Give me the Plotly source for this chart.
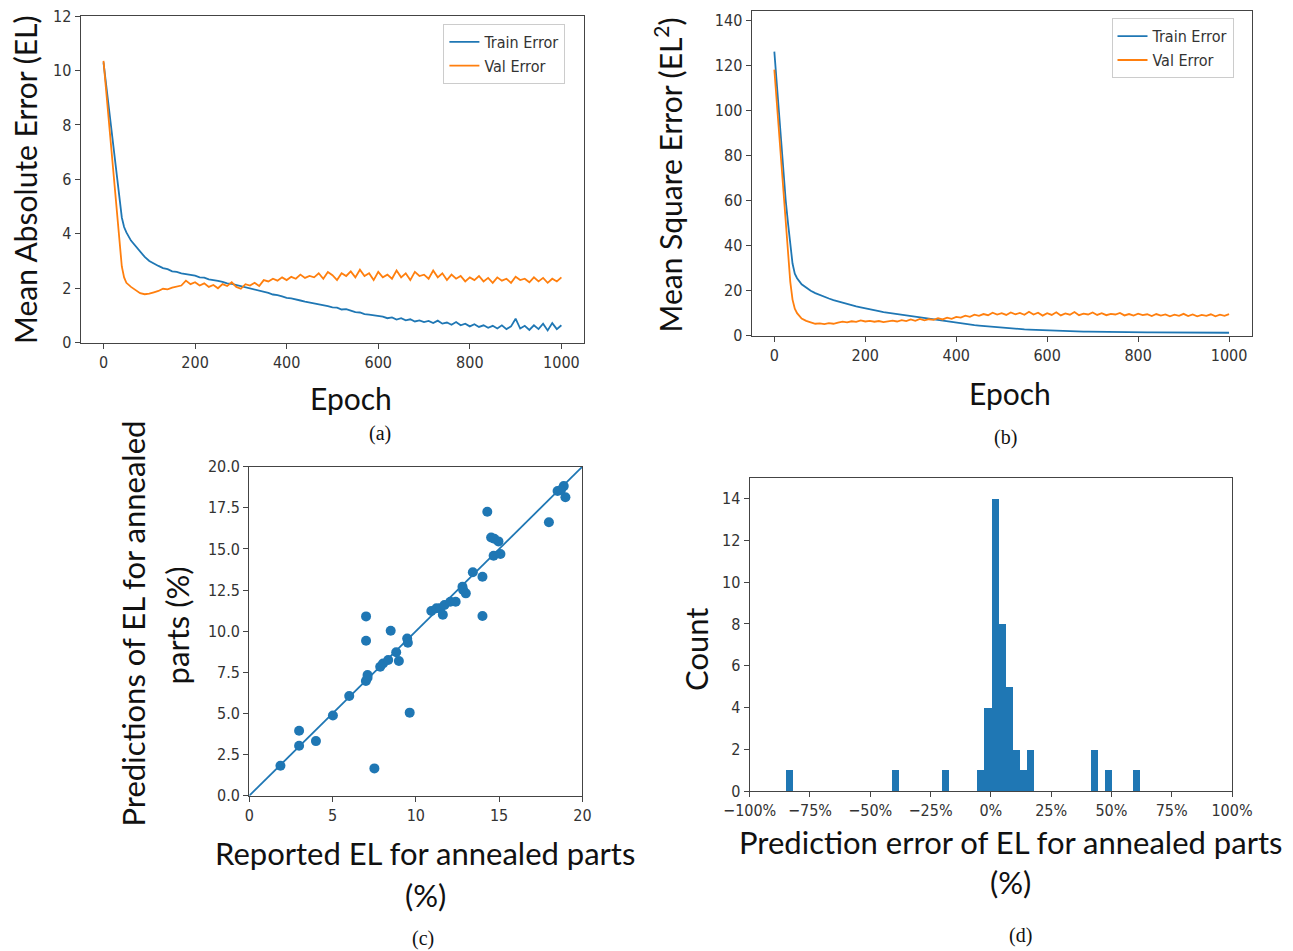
import plotly.graph_objects as go

# ---------------- data ----------------
# (a) mean absolute error
epochs_a = [0, 5, 10, 15, 20, 25, 30, 35, 40, 45, 50, 60, 70, 80, 90, 100, 110, 120, 130, 140, 150,
            160, 170, 180, 190, 200, 210, 220, 230, 240, 250, 260, 270, 280, 290, 300, 310, 320,
            330, 340, 350, 360, 370, 380, 390, 400, 410, 420, 430, 440, 450, 460, 470, 480, 490,
            500, 510, 520, 530, 540, 550, 560, 570, 580, 590, 600, 610, 620, 630, 640, 650, 660,
            670, 680, 690, 700, 710, 720, 730, 740, 750, 760, 770, 780, 790, 800, 810, 820, 830,
            840, 850, 860, 870, 880, 890, 900, 910, 920, 930, 940, 950, 960, 970, 980, 990, 1000]
train_mae = [10.3, 9.57, 8.84, 8.1, 7.4, 6.65, 5.9, 5.2, 4.6, 4.25, 4.05, 3.75, 3.55, 3.35, 3.15, 3.0,
             2.9, 2.82, 2.74, 2.7, 2.62, 2.6, 2.55, 2.52, 2.47, 2.46, 2.4, 2.39, 2.33, 2.31, 2.27,
             2.23, 2.18, 2.16, 2.12, 2.08, 2.04, 2.0, 1.95, 1.91, 1.86, 1.83, 1.77, 1.75, 1.7, 1.65,
             1.63, 1.6, 1.55, 1.51, 1.48, 1.45, 1.42, 1.38, 1.34, 1.3, 1.29, 1.22, 1.23, 1.18, 1.12,
             1.11, 1.05, 1.03, 1.0, 0.98, 0.96, 0.9, 0.93, 0.85, 0.9, 0.82, 0.86, 0.78, 0.82, 0.76,
             0.8, 0.72, 0.81, 0.7, 0.74, 0.66, 0.76, 0.64, 0.7, 0.6, 0.68, 0.58, 0.64, 0.55, 0.62,
             0.52, 0.64, 0.5, 0.6, 0.88, 0.52, 0.62, 0.47, 0.64, 0.5, 0.7, 0.45, 0.72, 0.5, 0.64]
val_mae = [10.35, 9.4, 8.45, 7.5, 6.55, 5.6, 4.65, 3.7, 2.8, 2.4, 2.2, 2.05, 1.95, 1.82, 1.78, 1.8,
           1.85, 1.9, 1.98, 1.96, 2.02, 2.05, 2.1, 2.28, 2.15, 2.22, 2.1, 2.18, 2.05, 2.12, 2.0,
           2.15, 2.08, 2.22, 2.05, 1.98, 2.15, 2.1, 2.2, 2.08, 2.3, 2.25, 2.35, 2.28, 2.4, 2.3,
           2.42, 2.35, 2.5, 2.38, 2.45, 2.4, 2.55, 2.35, 2.6, 2.48, 2.3, 2.55, 2.45, 2.62, 2.4,
           2.68, 2.45, 2.55, 2.3, 2.6, 2.4, 2.5, 2.35, 2.65, 2.4, 2.55, 2.3, 2.6, 2.45, 2.5, 2.35,
           2.65, 2.4, 2.55, 2.3, 2.5, 2.35, 2.45, 2.25, 2.4, 2.3, 2.45, 2.25, 2.38, 2.2, 2.4, 2.28,
           2.35, 2.2, 2.42, 2.3, 2.35, 2.22, 2.4, 2.25, 2.38, 2.2, 2.35, 2.25, 2.4]

# (b) mean square error
epochs_b = epochs_a
train_mse = [126, 112, 98, 85, 72, 60, 50, 41, 32, 27.5, 25.5, 22.8, 21.2, 19.9, 18.9, 18.0, 17.2,
             16.5, 15.8, 15.2, 14.6, 14.0, 13.5, 13.0, 12.6, 12.1, 11.7, 11.3, 10.9, 10.5, 10.2, 9.8,
             9.5, 9.2, 8.9, 8.6, 8.4, 8.1, 7.8, 7.5, 7.2, 6.9, 6.6, 6.3, 6.0, 5.7, 5.4, 5.2, 4.9,
             4.7, 4.5, 4.3, 4.1, 3.9, 3.7, 3.5, 3.4, 3.2, 3.1, 3.0, 2.8, 2.7, 2.6, 2.5, 2.4, 2.3,
             2.2, 2.1, 2.05, 2.0, 1.95, 1.9, 1.85, 1.8, 1.8, 1.75, 1.72, 1.7, 1.68, 1.65, 1.62, 1.6,
             1.58, 1.55, 1.55, 1.5, 1.52, 1.5, 1.47, 1.45, 1.44, 1.4, 1.42, 1.4, 1.38, 1.45, 1.36,
             1.35, 1.36, 1.35, 1.32, 1.3, 1.32, 1.3, 1.3, 1.3]
val_mse = [118, 104, 90, 76, 62, 50, 36, 24, 16, 12, 10, 7.6, 6.6, 5.8, 5.3, 5.5, 5.1, 5.6, 5.3,
           5.8, 6.2, 5.9, 6.4, 6.1, 6.8, 6.3, 6.6, 6.2, 6.5, 6.0, 6.4, 6.7, 6.3, 6.9, 6.5, 7.2,
           6.6, 7.4, 6.8, 7.3, 7.0, 7.8, 7.2, 8.0, 7.5, 8.3, 8.0, 8.9, 8.4, 9.3, 8.8, 9.6, 9.1,
           10.2, 9.4, 10.0, 9.2, 10.3, 9.5, 10.1, 9.3, 10.6, 9.4, 10.2, 8.9, 10.0, 9.2, 10.4, 9.0,
           9.9, 9.3, 10.5, 9.1, 9.8, 9.4, 10.3, 9.2, 10.0, 9.1, 9.7, 9.4, 10.1, 9.0, 9.6, 8.9,
           9.8, 9.1, 9.5, 8.7, 9.6, 8.9, 9.4, 8.6, 9.3, 8.8, 9.7, 8.7, 9.4, 8.6, 9.2, 8.8, 9.5,
           8.6, 9.3, 8.8, 9.6]

# (c) reported vs predicted EL (%)
reported_el = [1.87, 2.99, 2.99, 4.0, 5.02, 6.0, 7.01, 7.01, 7.1, 7.0, 7.1, 7.51, 7.86, 8.03, 8.34,
               8.49, 8.82, 8.98, 9.48, 9.52, 9.63, 10.93, 11.24, 11.45, 11.62, 11.72, 12.07, 12.39,
               12.8, 12.84, 13.0, 13.42, 14.0, 14.0, 14.29, 14.52, 14.71, 14.67, 14.96, 15.08,
               17.99, 18.51, 18.88, 18.98, 18.71]
predicted_el = [1.82, 3.95, 3.04, 3.32, 4.88, 6.06, 10.9, 9.42, 7.34, 6.97, 7.17, 1.66, 7.84, 8.04,
                8.25, 10.03, 8.72, 8.19, 9.56, 9.3, 5.05, 11.23, 11.39, 11.39, 11.0, 11.59, 11.79,
                11.79, 12.7, 12.5, 12.3, 13.58, 13.31, 10.92, 17.26, 15.7, 15.62, 14.59, 15.46,
                14.69, 16.62, 18.52, 18.82, 18.14, 18.58]
identity_line = [0, 20]

# (d) histogram of prediction error (%)
bin_centers = [-83.63, -39.53, -18.95, -4.25, -1.31, 1.63, 4.57, 7.51, 10.45, 13.39, 16.33,
               42.79, 48.67, 60.43]
bin_counts = [1, 1, 1, 1, 4, 14, 8, 5, 2, 1, 2, 2, 1, 1]
bin_width = 2.94

x_ticks_epoch = [0, 200, 400, 600, 800, 1000]
y_ticks_mae = [0, 2, 4, 6, 8, 10, 12]
y_ticks_mse = [0, 20, 40, 60, 80, 100, 120, 140]
x_ticks_c = [0, 5, 10, 15, 20]
y_ticks_c = [0.0, 2.5, 5.0, 7.5, 10.0, 12.5, 15.0, 17.5, 20.0]
x_ticks_d = [-100, -75, -50, -25, 0, 25, 50, 75, 100]
x_ticklabels_d = ["\u2212100%", "\u221275%", "\u221250%", "\u221225%", "0%", "25%", "50%", "75%", "100%"]
y_ticks_d = [0, 2, 4, 6, 8, 10, 12, 14]

# ---------------- style ----------------
W, H = 1293, 951
BLUE = "#1f77b4"
ORANGE = "#ff7f0e"
TICKFONT = dict(family="DejaVu Sans Condensed, Liberation Sans, sans-serif", size=16, color="#333")
TITLEFONT = dict(family="Lato, Open Sans, sans-serif", size=30, color="#111")
TITLEFONT2 = dict(family="Lato, Open Sans, sans-serif", size=31, color="#111")
CAPFONT = dict(family="Liberation Serif, serif", size=20, color="#111")


def px(x):
    return x / W


def py(y):
    return 1 - y / H


def axis(domain, rng, ticks, anchor, ticktext=None, fmt=None):
    d = dict(domain=domain, range=rng, tickvals=ticks, anchor=anchor, showgrid=False,
             zeroline=False, showline=True, mirror=True, linecolor="#444", linewidth=1.2,
             ticks="outside", ticklen=5, tickcolor="#444", tickfont=TICKFONT,
             automargin=False, fixedrange=True)
    if ticktext is not None:
        d["ticktext"] = ticktext
    if fmt is not None:
        d["tickformat"] = fmt
    return d


fig = go.Figure()

# (a)
fig.add_trace(go.Scatter(x=epochs_a, y=train_mae, mode="lines", name="Train Error",
                         line=dict(color=BLUE, width=1.8), xaxis="x", yaxis="y", legend="legend"))
fig.add_trace(go.Scatter(x=epochs_a, y=val_mae, mode="lines", name="Val Error",
                         line=dict(color=ORANGE, width=1.8), xaxis="x", yaxis="y", legend="legend"))
# (b)
fig.add_trace(go.Scatter(x=epochs_b, y=train_mse, mode="lines", name="Train Error",
                         line=dict(color=BLUE, width=1.8), xaxis="x2", yaxis="y2", legend="legend2"))
fig.add_trace(go.Scatter(x=epochs_b, y=val_mse, mode="lines", name="Val Error",
                         line=dict(color=ORANGE, width=1.8), xaxis="x2", yaxis="y2", legend="legend2"))
# (c)
fig.add_trace(go.Scatter(x=identity_line, y=identity_line, mode="lines", showlegend=False,
                         line=dict(color=BLUE, width=1.8), xaxis="x3", yaxis="y3"))
fig.add_trace(go.Scatter(x=reported_el, y=predicted_el, mode="markers", showlegend=False,
                         marker=dict(color=BLUE, size=10), xaxis="x3", yaxis="y3", cliponaxis=False))
# (d)
fig.add_trace(go.Bar(x=bin_centers, y=bin_counts, width=bin_width, showlegend=False,
                     marker=dict(color=BLUE, line=dict(width=0)), xaxis="x4", yaxis="y4"))

fig.update_layout(
    width=W, height=H, margin=dict(l=0, r=0, t=0, b=0, autoexpand=False),
    paper_bgcolor="white", plot_bgcolor="white", bargap=0,
    xaxis=axis([px(80.6), px(584.3)], [-50, 1050], x_ticks_epoch, "y"),
    yaxis=axis([py(342.7), py(16)], [0, 12], y_ticks_mae, "x"),
    xaxis2=axis([px(751.6), px(1251.8)], [-50, 1050], x_ticks_epoch, "y2"),
    yaxis2=axis([py(335.7), py(11)], [0, 144], y_ticks_mse, "x2"),
    xaxis3=axis([px(249.3), px(582.4)], [0, 20], x_ticks_c, "y3"),
    yaxis3=axis([py(795.7), py(466.7)], [0, 20], y_ticks_c, "x3", fmt=".1f"),
    xaxis4=axis([px(749.7), px(1232)], [-100, 100], x_ticks_d, "y4", ticktext=x_ticklabels_d),
    yaxis4=axis([py(791), py(477.7)], [0, 15], y_ticks_d, "x4"),
    legend=dict(x=px(443.4), y=py(24), xanchor="left", yanchor="top", bgcolor="white",
                bordercolor="#cccccc", borderwidth=1, font=TICKFONT, itemwidth=30),
    legend2=dict(x=px(1111.5), y=py(18.3), xanchor="left", yanchor="top", bgcolor="white",
                 bordercolor="#cccccc", borderwidth=1, font=TICKFONT, itemwidth=30),
)

annotations = [
    # (a)
    dict(text="Mean Absolute Error (EL)", x=px(25), y=py(180), textangle=-90, font=TITLEFONT),
    dict(text="Epoch", x=px(351), y=py(398), font=TITLEFONT),
    dict(text="(a)", x=px(380), y=py(433), font=CAPFONT),
    # (b)
    dict(text="Mean Square Error (EL<sup>2</sup>)", x=px(668.5), y=py(175), textangle=-90, font=TITLEFONT),
    dict(text="Epoch", x=px(1010), y=py(393), font=TITLEFONT),
    dict(text="(b)", x=px(1005), y=py(437), font=CAPFONT),
    # (c)
    dict(text="Predictions of EL for annealed", x=px(132.5), y=py(624), textangle=-90, font=TITLEFONT2),
    dict(text="parts (%)", x=px(177.4), y=py(625), textangle=-90, font=TITLEFONT2),
    dict(text="Reported EL for annealed parts", x=px(425), y=py(853), font=TITLEFONT2),
    dict(text="(%)", x=px(425), y=py(895), font=TITLEFONT2),
    dict(text="(c)", x=px(423), y=py(938), font=CAPFONT),
    # (d)
    dict(text="Count", x=px(696), y=py(650), textangle=-90, font=TITLEFONT2),
    dict(text="Prediction error of EL for annealed parts", x=px(1010), y=py(842), font=TITLEFONT2),
    dict(text="(%)", x=px(1010), y=py(882), font=TITLEFONT2),
    dict(text="(d)", x=px(1020), y=py(935), font=CAPFONT),
]
for a in annotations:
    a.update(xref="paper", yref="paper", showarrow=False, xanchor="center", yanchor="middle")
fig.update_layout(annotations=annotations)

fig.write_html("out.html")
